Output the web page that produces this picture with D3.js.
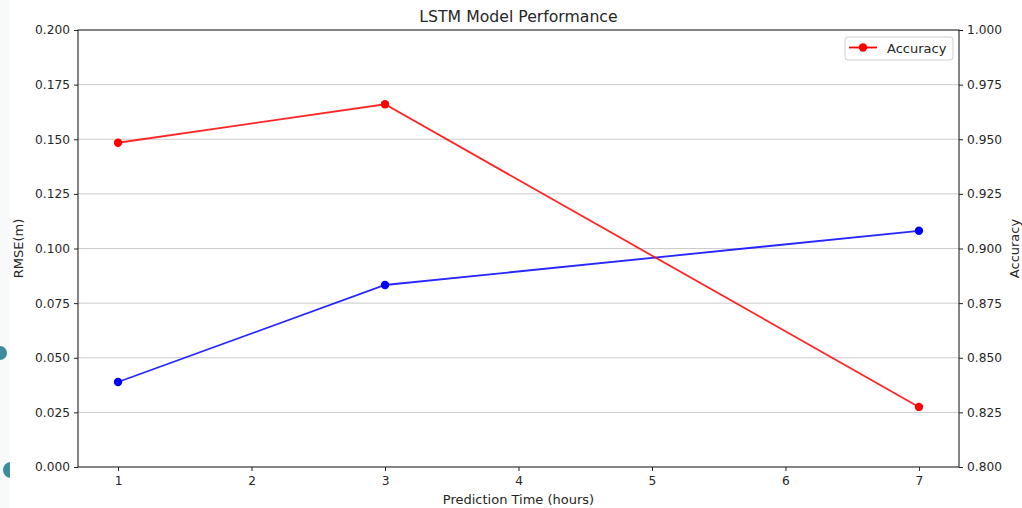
<!DOCTYPE html>
<html>
<head>
<meta charset="utf-8">
<script src="https://cdn.jsdelivr.net/npm/d3@7"></script>
<style>
  html, body { margin: 0; padding: 0; background: #ffffff; }
  svg { display: block; }
  text { font-family: "DejaVu Sans", sans-serif; fill: #262626; }
</style>
</head>
<body>
<script>
// Prediction horizons (hours) and the two metrics at each horizon
const hours = [1, 3, 7];
const rmse = [0.0389, 0.0833, 0.1081];
const accuracy = [0.9484, 0.9660, 0.8275];

const rmseTicks = [0, 0.025, 0.05, 0.075, 0.1, 0.125, 0.15, 0.175, 0.2];
const accTicks = [0.8, 0.825, 0.85, 0.875, 0.9, 0.925, 0.95, 0.975, 1.0];
const hourTicks = [1, 2, 3, 4, 5, 6, 7];

const W = 1022, H = 508;
const m = { left: 78, right: 959, top: 30, bottom: 467 };

const svg = d3.select("body").append("svg").attr("width", W).attr("height", H);

// faint strip and editor handles along the left edge
svg.append("rect").attr("x", 0).attr("y", 0).attr("width", 10).attr("height", H).attr("fill", "#f8f9f9");
const handleClip = svg.append("defs").append("clipPath").attr("id", "edge");
handleClip.append("rect").attr("x", 0).attr("y", 0).attr("width", 10).attr("height", H);
svg.append("circle").attr("cx", 0).attr("cy", 353).attr("r", 7).attr("fill", "#3b8c9c");
svg.append("circle").attr("cx", 11).attr("cy", 470).attr("r", 8).attr("fill", "#3b8c9c").attr("clip-path", "url(#edge)");

const x = d3.scaleLinear().domain([0.7, 7.3]).range([m.left, m.right]);
const yL = d3.scaleLinear().domain([0, 0.2]).range([m.bottom, m.top]);
const yR = d3.scaleLinear().domain([0.8, 1.0]).range([m.bottom, m.top]);

// horizontal grid
svg.append("g").selectAll("line").data(rmseTicks.slice(1, -1)).join("line")
  .attr("x1", m.left).attr("x2", m.right)
  .attr("y1", d => yL(d)).attr("y2", d => yL(d))
  .attr("stroke", "#cbcbcb").attr("stroke-width", 1);

// axes
const fmt = d3.format(".3f");
function styleAxis(g) {
  g.select(".domain").remove();
  g.selectAll(".tick line").attr("stroke", "#222").attr("stroke-width", 1);
  g.selectAll(".tick text").attr("font-size", 12.2).attr("fill", "#262626")
    .attr("font-family", "DejaVu Sans, sans-serif");
}
svg.append("g").attr("transform", `translate(${m.left},0)`)
  .call(d3.axisLeft(yL).tickValues(rmseTicks).tickFormat(fmt).tickSizeOuter(0).tickSize(4).tickPadding(4))
  .call(styleAxis);
svg.append("g").attr("transform", `translate(${m.right},0)`)
  .call(d3.axisRight(yR).tickValues(accTicks).tickFormat(fmt).tickSizeOuter(0).tickSize(4).tickPadding(4))
  .call(styleAxis);
svg.append("g").attr("transform", `translate(0,${m.bottom})`)
  .call(d3.axisBottom(x).tickValues(hourTicks).tickFormat(d3.format("d")).tickSizeOuter(0).tickSize(4).tickPadding(5))
  .call(styleAxis);

// frame
svg.append("rect").attr("x", m.left).attr("y", m.top)
  .attr("width", m.right - m.left).attr("height", m.bottom - m.top)
  .attr("fill", "none").attr("stroke", "#222").attr("stroke-width", 1.1);

// series
function series(vals, yScale, color) {
  const pts = hours.map((h, i) => [h, vals[i]]);
  svg.append("path").datum(pts)
    .attr("d", d3.line().x(d => x(d[0])).y(d => yScale(d[1])))
    .attr("fill", "none").attr("stroke", color).attr("stroke-width", 1.8).attr("stroke-opacity", 0.85);
  svg.append("g").selectAll("circle").data(pts).join("circle")
    .attr("cx", d => x(d[0])).attr("cy", d => yScale(d[1])).attr("r", 4.2).attr("fill", color);
}
series(rmse, yL, "#0000ff");
series(accuracy, yR, "#ff0000");

// titles
svg.append("text").attr("x", (m.left + m.right) / 2).attr("y", 21.5)
  .attr("text-anchor", "middle").attr("font-size", 15.7).text("LSTM Model Performance");
svg.append("text").attr("x", (m.left + m.right) / 2).attr("y", 503.5)
  .attr("text-anchor", "middle").attr("font-size", 13).text("Prediction Time (hours)");
svg.append("text").attr("transform", `translate(23,${(m.top + m.bottom) / 2}) rotate(-90)`)
  .attr("text-anchor", "middle").attr("font-size", 13).text("RMSE(m)");
svg.append("text").attr("transform", `translate(1018.5,${(m.top + m.bottom) / 2}) rotate(-90)`)
  .attr("text-anchor", "middle").attr("font-size", 13).text("Accuracy");

// legend
const lg = svg.append("g");
lg.append("rect").attr("x", 845).attr("y", 37).attr("width", 108).attr("height", 23).attr("rx", 3)
  .attr("fill", "#ffffff").attr("fill-opacity", 0.8).attr("stroke", "#d0d0d0").attr("stroke-width", 1);
lg.append("line").attr("x1", 849).attr("x2", 877).attr("y1", 47.5).attr("y2", 47.5)
  .attr("stroke", "#ff0000").attr("stroke-width", 1.8);
lg.append("circle").attr("cx", 863).attr("cy", 47.5).attr("r", 4.2).attr("fill", "#ff0000");
lg.append("text").attr("x", 887).attr("y", 52.5).attr("font-size", 13).text("Accuracy");
</script>
</body>
</html>
